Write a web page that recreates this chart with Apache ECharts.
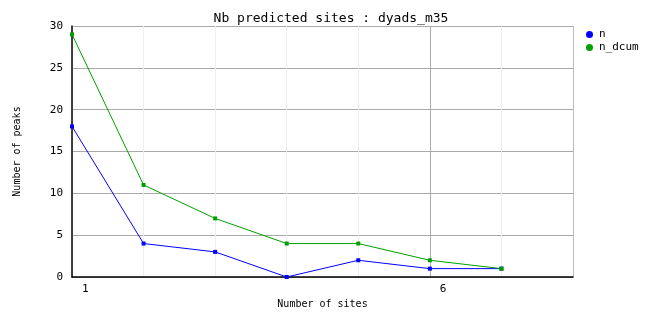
<!DOCTYPE html>
<html><head><meta charset="utf-8">
<script src="https://cdn.jsdelivr.net/npm/echarts@6/dist/echarts.min.js"></script>
<style>html,body{margin:0;padding:0;background:#fff}#c{width:662px;height:328px}</style>
</head><body><div id="c"></div>
<script>
const xValues = [1, 2, 3, 4, 5, 6, 7];
const nValues = [18, 4, 3, 0, 2, 1, 1];
const nDcumValues = [29, 11, 7, 4, 4, 2, 1];
const xTickLabels = [1, 6];
const FONT = 'DejaVu Sans Mono';
const chart = echarts.init(document.getElementById('c'));
chart.setOption({
  animation: false,
  backgroundColor: '#fff',
  title: { text: 'Nb predicted sites : dyads_m35', left: 'center', top: 7,
    textStyle: { fontFamily: FONT, fontSize: 13, fontWeight: 'normal', color: '#000' } },
  legend: { orient: 'vertical', left: 581, top: 24, itemGap: 2, itemWidth: 9, itemHeight: 7,
    data: [{ name: 'n', icon: 'circle' }, { name: 'n_dcum', icon: 'circle' }],
    textStyle: { fontFamily: FONT, fontSize: 11, color: '#000' } },
  grid: { left: 72, right: 89, top: 26, bottom: 51 },
  xAxis: { type: 'value', min: 1, max: 8, interval: 1,
    name: 'Number of sites', nameLocation: 'middle', nameGap: 22,
    nameTextStyle: { fontFamily: FONT, fontSize: 10, color: '#000' },
    axisLine: { lineStyle: { color: '#000', width: 1.5 } },
    axisTick: { show: false },
    axisLabel: { fontFamily: FONT, fontSize: 11, color: '#000', margin: 7, align: 'left', padding: [0,0,0,10],
      formatter: v => xTickLabels.includes(v) ? String(v) : '' },
    splitLine: { show: true, lineStyle: { color: ['#eeeeee','#eeeeee','#eeeeee','#eeeeee','#eeeeee','#aaaaaa','#eeeeee','#bbbbbb'], width: 1 } } },
  yAxis: { type: 'value', min: 0, max: 30, interval: 5,
    name: 'Number of peaks', nameLocation: 'middle', nameGap: 50,
    nameTextStyle: { fontFamily: FONT, fontSize: 10, color: '#000' },
    axisLine: { show: true, lineStyle: { color: '#000', width: 1.5 } },
    axisTick: { show: false },
    axisLabel: { fontFamily: FONT, fontSize: 11, color: '#000', margin: 9 },
    splitLine: { show: true, lineStyle: { color: '#aaaaaa', width: 1 } } },
  series: [
    { name: 'n', type: 'line', data: xValues.map((x, i) => [x, nValues[i]]),
      color: '#0000ff', symbol: 'rect', symbolSize: 4, lineStyle: { width: 1 } },
    { name: 'n_dcum', type: 'line', data: xValues.map((x, i) => [x, nDcumValues[i]]),
      color: '#00a000', symbol: 'rect', symbolSize: 4, lineStyle: { width: 1 } }
  ]
});
</script></body></html>
